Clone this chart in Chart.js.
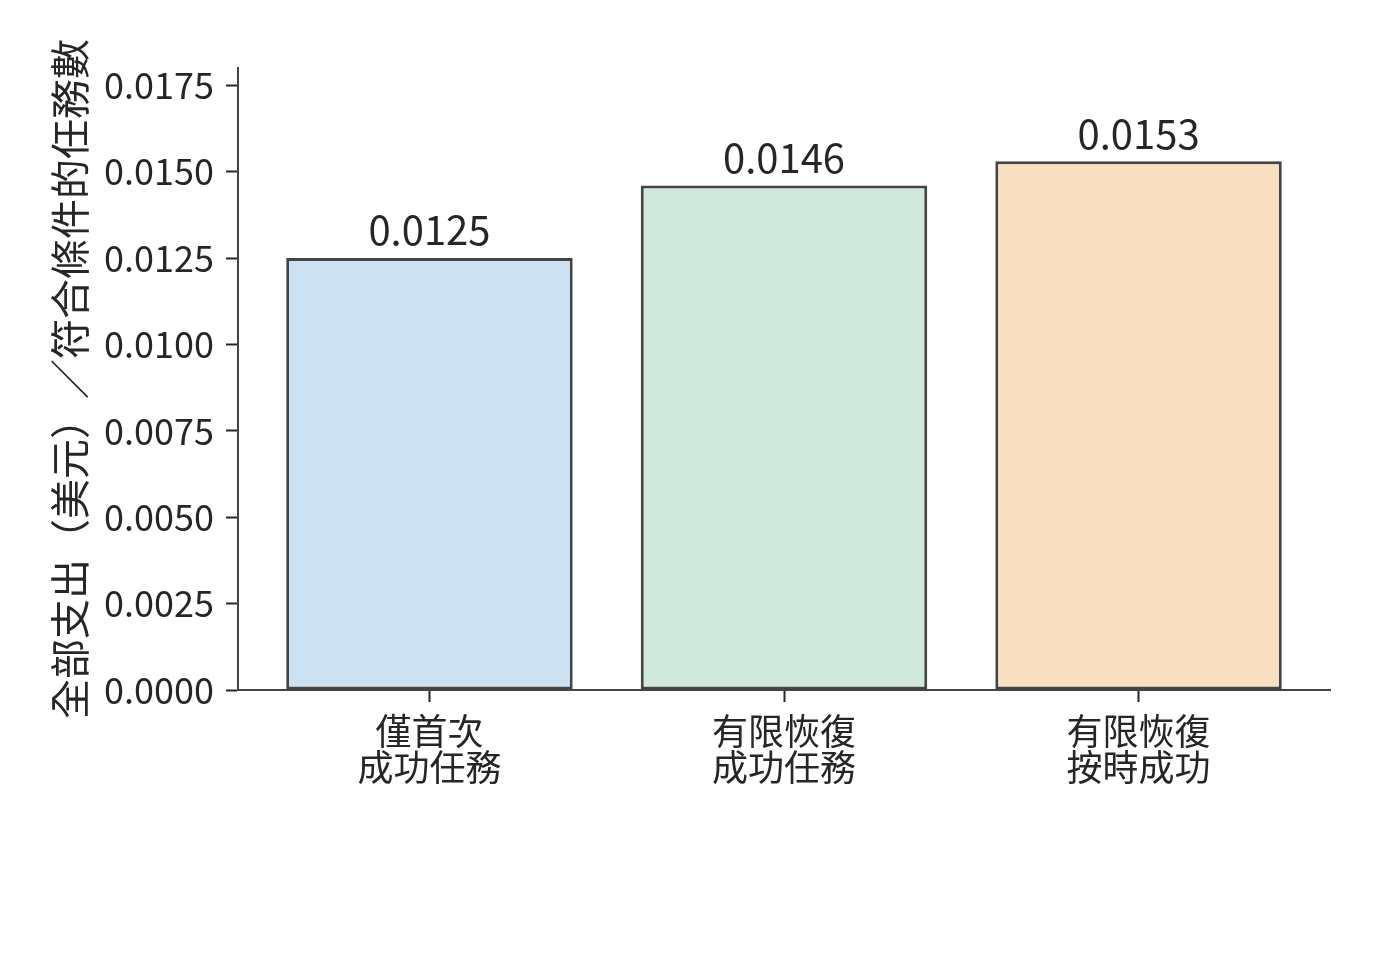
<!DOCTYPE html>
<html>
<head>
<meta charset="utf-8">
<script src="https://cdn.jsdelivr.net/npm/chart.js@4/dist/chart.umd.min.js"></script>
<style>
html,body{margin:0;padding:0;background:#fff;}
canvas{display:block;}
</style>
</head>
<body>
<canvas id="c" width="1400" height="960"></canvas>
<script>
const categories = [["僅首次","成功任務"],["有限恢復","成功任務"],["有限恢復","按時成功"]];
const values = [0.0125, 0.0146, 0.0153];
const valueLabels = ["0.0125", "0.0146", "0.0153"];
const barColors = ["#cce2f2", "#d0e8dc", "#f8dfc0"];
const yTitle = "全部支出（美元）／符合條件的任務數";

const FONT = "'Noto Sans CJK TC', 'Noto Sans CJK SC', 'Noto Sans', sans-serif";
const TEXT = "#262626";
const AXIS = "#444444";

const valuePlugin = {
  id: 'valueLabels',
  afterDatasetsDraw(chart) {
    const ctx = chart.ctx;
    const meta = chart.getDatasetMeta(0);
    ctx.save();
    ctx.font = "40px " + FONT;
    ctx.fillStyle = TEXT;
    ctx.textAlign = "center";
    ctx.textBaseline = "bottom";
    meta.data.forEach((bar, i) => {
      ctx.fillText(valueLabels[i], bar.x, bar.y - 8);
    });
    ctx.restore();
  }
};

new Chart(document.getElementById('c'), {
  type: 'bar',
  data: {
    datasets: [{
      data: values.map((v, i) => ({x: i, y: v})),
      backgroundColor: barColors,
      borderColor: AXIS,
      borderWidth: 3,
      borderSkipped: false,
      barPercentage: 0.808,
      categoryPercentage: 1.0
    }]
  },
  options: {
    responsive: false,
    devicePixelRatio: 1,
    animation: false,
    layout: {padding: {left: 0, top: 68, right: 70, bottom: 0}},
    plugins: {legend: {display: false}, tooltip: {enabled: false}},
    scales: {
      x: {
        type: 'linear',
        offset: false,
        min: -0.54,
        max: 2.54,
        afterBuildTicks(scale) { scale.ticks = [{value: 0}, {value: 1}, {value: 2}]; },
        afterFit(scale) { scale.height = 270; },
        ticks: {
          callback: (v) => categories[v],
          font: {family: FONT, size: 36, lineHeight: 0.98},
          color: TEXT,
          padding: 12,
          maxRotation: 0,
          autoSkip: false
        },
        grid: {offset: false, drawOnChartArea: false, drawTicks: true, tickLength: 12, tickWidth: 2, tickColor: TEXT},
        border: {display: true, color: AXIS, width: 2}
      },
      y: {
        min: 0,
        max: 0.018,
        afterBuildTicks(scale) {
          const t = [];
          for (let i = 0; i <= 7; i++) t.push({value: i * 0.0025});
          scale.ticks = t;
        },
        afterFit(scale) { scale.width = 238; },
        ticks: {
          callback: (v) => v.toFixed(4),
          font: {family: FONT, size: 36},
          color: TEXT,
          padding: 12
        },
        grid: {drawOnChartArea: false, drawTicks: true, tickLength: 12, tickWidth: 2, tickColor: TEXT},
        border: {display: true, color: AXIS, width: 2},
        title: {
          display: true,
          text: yTitle,
          font: {family: FONT, size: 40, lineHeight: 1.2},
          color: TEXT,
          padding: {top: 46, bottom: 0}
        }
      }
    }
  },
  plugins: [valuePlugin]
});
</script>
</body>
</html>
